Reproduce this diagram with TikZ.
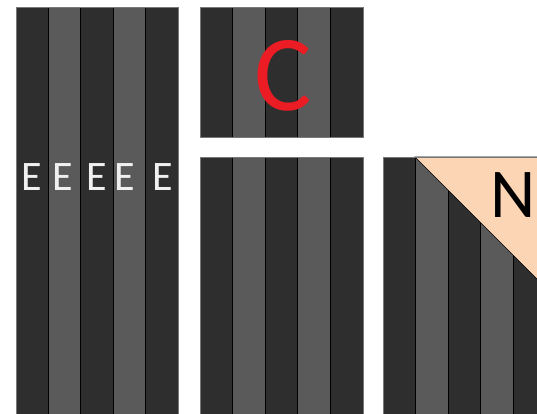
\documentclass[tikz,border=0pt]{standalone}
\usepackage{fontspec}
\setmainfont{Carlito}
\usepackage{xcolor}
\definecolor{stripedark}{RGB}{46,46,46}
\definecolor{stripelight}{RGB}{90,90,90}
\definecolor{blockedge}{RGB}{120,120,120}
\definecolor{wedgepeach}{RGB}{252,213,181}
\definecolor{letterred}{RGB}{236,28,36}
\definecolor{letterwhite}{RGB}{240,240,240}
\tikzset{
  darkstripe/.style={fill=stripedark,draw=black,line width=0.8pt},
  lightstripe/.style={fill=stripelight,draw=black,line width=0.8pt},
  blockframe/.style={draw=blockedge,line width=0.6pt},
  wedge/.style={fill=wedgepeach,draw=black,line width=0.6pt},
  elabel/.style={text=letterwhite,font=\fontsize{42}{42}\selectfont,
    inner sep=0pt,anchor=base},
  clabel/.style={text=letterred,font=\fontsize{108}{108}\selectfont,
    inner sep=0pt,anchor=base},
  nlabel/.style={text=black,font=\fontsize{70}{70}\selectfont,
    inner sep=0pt,anchor=base}
}
% five stripes: left x, top y, bottom y, stripe width
\newcommand{\stripeblock}[4]{%
  \foreach \k in {0,...,4}{
    \pgfmathtruncatemacro{\odd}{mod(\k,2)}
    \ifnum\odd=0
      \path[darkstripe] ({#1+\k*#4},#2) rectangle ({#1+(\k+1)*#4},#3);
    \else
      \path[lightstripe] ({#1+\k*#4},#2) rectangle ({#1+(\k+1)*#4},#3);
    \fi
  }
  \path[blockframe] (#1,#2) rectangle ({#1+5*#4},#3);
}

\begin{document}
\begin{tikzpicture}[x=1pt,y=-1pt]
  \useasboundingbox (0,0) rectangle (537,414);
  \fill[white] (0,0) rectangle (537,414);
  \begin{scope}
    \clip (0,0) rectangle (537,414);
    % blocks
    \stripeblock{16}{7}{430}{32.4}
    \stripeblock{200}{7}{137}{32.6}
    \stripeblock{200}{157}{430}{32.6}
    \stripeblock{383}{157}{430}{32.6}
    % peach corner
    \path[wedge] (415,157) -- (570,157) -- (570,312) -- cycle;
    \path[blockframe] (383,157) -- (570,157);
    % letters
    \foreach \xpos/\name in {32/e1,63/e2,97/e3,125/e4,163/e5}
      \node[elabel] (\name) at (\xpos,190) {E};
    \node[clabel] (cletter) at (283,111) {C};
    \node[nlabel] (nletter) at (513,217) {N};
  \end{scope}
\end{tikzpicture}
\end{document}
